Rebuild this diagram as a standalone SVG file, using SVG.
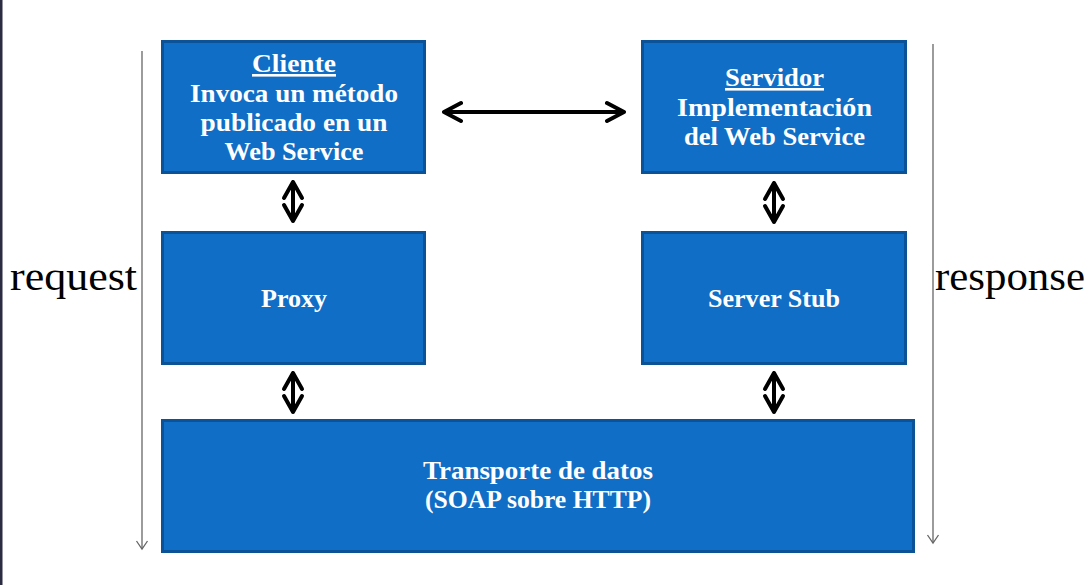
<svg xmlns="http://www.w3.org/2000/svg" width="1091" height="585" viewBox="0 0 1091 585">
<style>
.box{fill:#106ec6;stroke:#0b5396;stroke-width:3}
.t{font-family:"Liberation Serif","DejaVu Serif",serif;font-weight:bold;font-size:26px;fill:#ffffff;text-anchor:middle}
.side{font-family:"Liberation Serif","DejaVu Serif",serif;font-size:40px;fill:#000}
.thin{stroke:#666;stroke-width:1.3;fill:none}
.dbl{stroke:#000;stroke-width:4;fill:none;stroke-linecap:round;stroke-linejoin:round}
</style>
<rect x="0" y="0" width="1091" height="585" fill="#ffffff"/>
<rect x="0" y="0" width="2.5" height="585" fill="#2b2b42"/>
<g id="cliente">
<rect class="box" x="162.5" y="41.5" width="262" height="131"/>
<text class="t" x="294" y="72" textLength="84" lengthAdjust="spacingAndGlyphs" text-decoration="underline">Cliente</text>
<text class="t" x="294" y="101.5" textLength="208" lengthAdjust="spacingAndGlyphs">Invoca un método</text>
<text class="t" x="294" y="130.5" textLength="187" lengthAdjust="spacingAndGlyphs">publicado en un</text>
<text class="t" x="294" y="159.5" textLength="139" lengthAdjust="spacingAndGlyphs">Web Service</text>
</g>
<g id="servidor">
<rect class="box" x="642.5" y="41.5" width="263" height="131"/>
<text class="t" x="774.5" y="86" textLength="99" lengthAdjust="spacingAndGlyphs" text-decoration="underline">Servidor</text>
<text class="t" x="774.5" y="115.5" textLength="195" lengthAdjust="spacingAndGlyphs">Implementación</text>
<text class="t" x="774.5" y="144.5" textLength="181" lengthAdjust="spacingAndGlyphs">del Web Service</text>
</g>
<g id="proxy">
<rect class="box" x="162.5" y="232.5" width="262" height="131"/>
<text class="t" x="294" y="307" textLength="66" lengthAdjust="spacingAndGlyphs">Proxy</text>
</g>
<g id="serverstub">
<rect class="box" x="642.5" y="232.5" width="263" height="131"/>
<text class="t" x="774" y="307" textLength="132" lengthAdjust="spacingAndGlyphs">Server Stub</text>
</g>
<g id="transporte">
<rect class="box" x="162.5" y="420.5" width="751" height="131"/>
<text class="t" x="538" y="479" textLength="230" lengthAdjust="spacingAndGlyphs">Transporte de datos</text>
<text class="t" x="538" y="508" textLength="226" lengthAdjust="spacingAndGlyphs">(SOAP sobre HTTP)</text>
</g>
<g id="labels">
<text class="side" x="10" y="290" textLength="127" lengthAdjust="spacingAndGlyphs">request</text>
<text class="side" x="935" y="290" textLength="150" lengthAdjust="spacingAndGlyphs">response</text>
</g>
<g id="connectors">
<line class="thin" x1="142" y1="51" x2="142" y2="549"/>
<polyline class="thin" points="136.5,541 142,549 147.5,541"/>
<line class="thin" x1="933" y1="44" x2="933" y2="543"/>
<polyline class="thin" points="927.5,535 933,543 938.5,535"/>
<path class="dbl" d="M444,112 H624 M461,103 L444,112 L461,121 M607,103 L624,112 L607,121"/>
<path class="dbl" d="M293,182 V221 M284,198 L293,182 L302,198 M284,205 L293,221 L302,205"/>
<path class="dbl" d="M293,373 V412 M284,389 L293,373 L302,389 M284,396 L293,412 L302,396"/>
<path class="dbl" d="M774,183 V222 M765,199 L774,183 L783,199 M765,206 L774,222 L783,206"/>
<path class="dbl" d="M774,373 V412 M765,389 L774,373 L783,389 M765,396 L774,412 L783,396"/>
</g>
</svg>
